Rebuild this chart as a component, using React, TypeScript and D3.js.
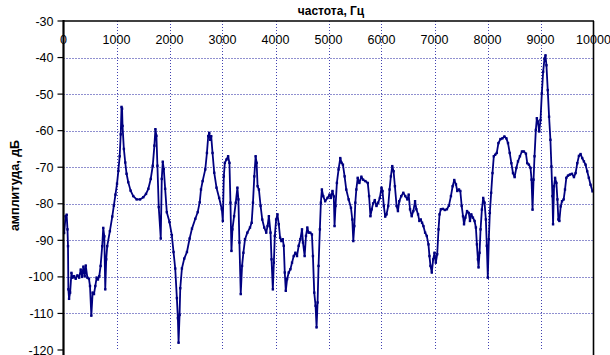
import React from 'react';
import * as d3 from 'd3';

// spectrum: [frequency Hz, amplitude dB]
const spectrum: [number, number][] = [
  [12, -88], [40, -83.4], [60, -83], [75, -87], [85, -91.6], [92, -103.4], [105, -106], [125, -104.3],
  [150, -98.9], [170, -100.2], [200, -99.8], [230, -100.5], [262, -99.6], [295, -100.2], [325, -98],
  [350, -100], [375, -97.2], [400, -99.8], [420, -96.9], [450, -100.2], [480, -100.5], [500, -102.5],
  [525, -110.6], [550, -104.3], [575, -104.7], [600, -102.5], [625, -100.2], [650, -100.7], [675, -99.8],
  [700, -97], [730, -91.6], [750, -86.6], [770, -88.9], [788, -103.4], [806, -95.2], [825, -91.6],
  [875, -87.5], [920, -83.5], [950, -80.5], [980, -77.5], [1010, -74.5], [1035, -71], [1060, -67],
  [1080, -61], [1095, -53.5], [1105, -54], [1114, -58.7], [1139, -65], [1165, -68.7], [1190, -71.8],
  [1222, -74.1], [1266, -76.4], [1316, -77.9], [1380, -78.8], [1443, -78.8], [1506, -78.2], [1557, -77.3],
  [1601, -75.9], [1646, -73.2], [1684, -69.6], [1715, -64.1], [1734, -59.6], [1753, -61.4], [1772, -69.6],
  [1797, -80.9], [1835, -89.5], [1854, -73.2], [1873, -68.5], [1892, -70.5], [1918, -75.9], [1949, -82.3],
  [2000, -85], [2044, -88.6], [2076, -93.2], [2108, -97.7], [2139, -105.8], [2158, -111.3], [2171, -118],
  [2190, -110.4], [2203, -103.1], [2234, -97.7], [2278, -95], [2329, -93.2], [2380, -89.5], [2424, -86.8],
  [2487, -84.1], [2532, -82.3], [2570, -79.6], [2594, -76.1], [2625, -73.8], [2675, -70.6], [2706, -66.1],
  [2731, -61.5], [2750, -60.6], [2769, -62.5], [2787, -61.5], [2812, -66.1], [2844, -71.5], [2887, -75.6],
  [2937, -78.4], [2987, -81.5], [3006, -84.7], [3025, -72.5], [3044, -68.8], [3075, -67.9], [3106, -67],
  [3131, -68.8], [3150, -79.7], [3169, -92.9], [3187, -87], [3219, -83.4], [3250, -79.7], [3281, -75.6],
  [3300, -78.8], [3319, -90.6], [3344, -104.7], [3369, -97], [3394, -93.4], [3425, -89.7], [3469, -87.9],
  [3519, -86.5], [3550, -85.2], [3575, -79.7], [3600, -72.5], [3625, -67], [3644, -68.8], [3662, -75.2],
  [3687, -76.1], [3719, -80.6], [3750, -84.3], [3787, -86.5], [3825, -87.9], [3850, -86.1], [3875, -83.4],
  [3906, -87.9], [3925, -95.2], [3950, -103.4], [3969, -96.1], [3987, -88.8], [4012, -84.3], [4037, -82.9],
  [4062, -85.6], [4087, -89.3], [4112, -90.2], [4137, -89.7], [4156, -91.5], [4175, -98.8], [4194, -103.8],
  [4219, -100.6], [4250, -98.8], [4281, -97.9], [4312, -96.1], [4344, -94.3], [4375, -93.4], [4406, -94.3],
  [4437, -91.5], [4469, -89.7], [4500, -87], [4519, -90.6], [4550, -94.3], [4575, -88.8], [4600, -86.5],
  [4625, -87.9], [4656, -87.9], [4687, -88.4], [4706, -94.3], [4731, -104.3], [4756, -107.9], [4775, -113.8],
  [4794, -107], [4812, -97], [4837, -87], [4856, -79.7], [4875, -76.1], [4900, -77.9], [4937, -79.3],
  [4981, -78.4], [5019, -77.5], [5044, -78.4], [5075, -76.5], [5100, -78], [5114, -86.1], [5133, -80.6],
  [5158, -74.3], [5190, -70.6], [5222, -67.5], [5247, -68.8], [5272, -69.3], [5304, -72.5], [5335, -76.1],
  [5380, -78.8], [5424, -81.1], [5449, -84.3], [5468, -90.2], [5487, -86.1], [5506, -79.7], [5525, -76.1],
  [5551, -72.9], [5582, -74.3], [5620, -72.6], [5652, -73.4], [5696, -73.8], [5741, -74.3], [5766, -77.9],
  [5791, -83.4], [5816, -81.5], [5842, -79.9], [5873, -79], [5905, -80.6], [5937, -79.7], [5968, -78.4],
  [6000, -75.6], [6019, -76.5], [6044, -80.6], [6070, -83.5], [6095, -82.9], [6127, -80.6], [6152, -76.1],
  [6177, -72.5], [6203, -69.7], [6228, -71.1], [6253, -75.2], [6285, -80.6], [6310, -82], [6335, -79.3],
  [6373, -77.9], [6411, -77], [6449, -77.9], [6487, -78.8], [6513, -77.5], [6538, -81.5], [6570, -83.4],
  [6601, -82], [6633, -79.3], [6658, -81.5], [6690, -82.9], [6715, -84.7], [6741, -84.3], [6766, -85.2],
  [6791, -86.1], [6823, -87.9], [6854, -88.8], [6886, -91.1], [6905, -94.3], [6924, -97], [6949, -98.8],
  [6975, -95.2], [7000, -93.4], [7025, -96.1], [7051, -93.8], [7076, -87], [7095, -82.9], [7120, -81.5],
  [7158, -81.4], [7196, -81.7], [7234, -81.5], [7272, -80.5], [7310, -77.9], [7342, -75.2], [7373, -73.5],
  [7405, -74.7], [7430, -76.5], [7462, -76.1], [7487, -76.5], [7513, -80.6], [7538, -83.4], [7557, -85.6],
  [7582, -83.8], [7614, -82], [7646, -82.5], [7669, -84.7], [7694, -82.9], [7725, -83.8], [7756, -84.7],
  [7781, -86.5], [7800, -91.1], [7819, -95.2], [7831, -97.4], [7850, -93.4], [7869, -87], [7894, -81.6],
  [7919, -78.4], [7944, -79.7], [7969, -84.3], [7987, -91.5], [8006, -100.2], [8025, -89.7], [8044, -82.5],
  [8069, -77], [8094, -71.6], [8119, -67], [8144, -66.6], [8175, -66.1], [8206, -63.4], [8244, -62.3],
  [8281, -62.1], [8319, -61.6], [8356, -62.1], [8387, -63.4], [8419, -66.1], [8450, -68.9], [8481, -71.6],
  [8512, -72.7], [8544, -70.2], [8575, -68.4], [8612, -67], [8650, -65.7], [8687, -65.7], [8725, -66.3],
  [8750, -68.9], [8781, -69.3], [8812, -70.2], [8831, -73.4], [8850, -81.6], [8869, -73.4], [8887, -67],
  [8912, -59.8], [8931, -56.6], [8950, -57.5], [8975, -60.2], [9000, -57.1], [9025, -49.8], [9050, -43.9],
  [9075, -40.3], [9094, -39.4], [9112, -42.1], [9137, -48.9], [9162, -56.2], [9187, -62.5], [9206, -69.8],
  [9225, -77.9], [9237, -85.6], [9256, -75.2], [9275, -72.9], [9300, -74.3], [9319, -78.8], [9337, -84.3],
  [9356, -84.7], [9381, -80.7], [9406, -79.3], [9437, -78.8], [9462, -76.1], [9487, -72.9], [9519, -72.3],
  [9556, -72], [9594, -71.8], [9631, -72.7], [9662, -71.6], [9694, -68.9], [9725, -66.9], [9756, -66.4],
  [9787, -67.5], [9819, -68.4], [9850, -69.3], [9881, -71.1], [9912, -72.9], [9944, -74.8], [9981, -76.6],
];

const xTicks = [0, 1000, 2000, 3000, 4000, 5000, 6000, 7000, 8000, 9000, 10000];
const yTicks = [-30, -40, -50, -60, -70, -80, -90, -100, -110, -120];
const xTitle = 'частота, Гц';
const yTitle = 'амплитуда, дБ';

const W = 610;
const H = 355;
const left = 63.5;
const right = 593.5;
const top = 21;
const bottom = 350;
const navy = '#000080';
const font = '"Liberation Sans", Arial, sans-serif';

export default function App() {
  const x = d3.scaleLinear().domain([0, 10000]).range([left, right]);
  const y = d3.scaleLinear().domain([-120, -30]).range([bottom, top]);

  const line = d3
    .line<[number, number]>()
    .x((d) => x(d[0]))
    .y((d) => y(d[1]));

  return (
    <svg
      width={W}
      height={H}
      style={{ position: 'absolute', left: 0, top: 0, background: '#fff' }}
      fontFamily={font}
    >
      {/* grid */}
      {yTicks.slice(1, -1).map((t) => (
        <line key={'gy' + t} x1={left} x2={right} y1={Math.round(y(t)) + 0.5} y2={Math.round(y(t)) + 0.5}
          stroke="#2020a0" strokeWidth={1} strokeDasharray="1,2" />
      ))}
      {xTicks.slice(1, -1).map((t) => (
        <line key={'gx' + t} x1={Math.round(x(t)) + 0.5} x2={Math.round(x(t)) + 0.5} y1={top} y2={bottom}
          stroke="#4040b0" strokeWidth={1} strokeDasharray="1,2" />
      ))}

      {/* series */}
      <path d={line(spectrum) || ''} fill="none" stroke={navy} strokeWidth={1.8} strokeLinejoin="round" />
      {spectrum.map((d, i) => (
        <rect key={i} x={x(d[0]) - 1.2} y={y(d[1]) - 1.2} width={2.4} height={2.4} fill={navy} />
      ))}

      {/* frame */}
      <line x1={left} x2={right + 0.5} y1={top} y2={top} stroke="#000" strokeWidth={1.6} />
      <line x1={right} x2={right} y1={top} y2={bottom + 5} stroke="#000" strokeWidth={1.6} />
      <line x1={left} x2={left} y1={top - 1} y2={bottom + 5} stroke="#000" strokeWidth={2.2} />

      {/* y axis ticks */}
      {yTicks.map((t) => (
        <g key={'ty' + t}>
          <line x1={left - 6} x2={left} y1={y(t)} y2={y(t)} stroke="#000" strokeWidth={1.2} />
          <text x={53.5} y={y(t) + 4.5} textAnchor="end" fontSize={12.5} fill="#000">{t}</text>
        </g>
      ))}

      {/* x axis labels, inside the top edge */}
      {xTicks.map((t) => (
        <text key={'tx' + t} x={x(t)} y={44} textAnchor="middle" fontSize={12.5} fill="#000">{t}</text>
      ))}

      <text x={331} y={15} textAnchor="middle" fontSize={12} fontWeight="bold" fill="#000">{xTitle}</text>
      <text transform={`translate(19,${(top + bottom) / 2}) rotate(-90)`} textAnchor="middle"
        fontSize={12.5} fontWeight="bold" fill="#000">{yTitle}</text>
    </svg>
  );
}
